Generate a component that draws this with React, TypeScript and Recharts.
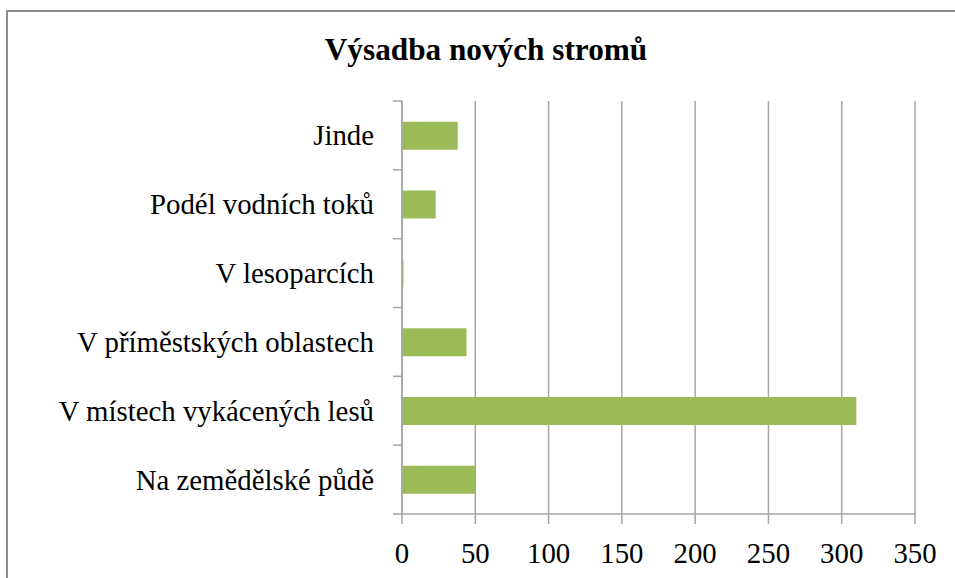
import React from 'react';
import { BarChart, Bar, XAxis, YAxis, CartesianGrid } from 'recharts';

const categories = [
  'Jinde',
  'Podél vodních toků',
  'V lesoparcích',
  'V příměstských oblastech',
  'V místech vykácených lesů',
  'Na zemědělské půdě',
];
const values = [38, 23, 1, 44, 310, 50];
const xTicks = [0, 50, 100, 150, 200, 250, 300, 350];
const title = 'Výsadba nových stromů';

const data = categories.map((c, i) => ({ name: c, value: values[i] }));

const AXIS_COLOR = '#a6a6a6';
const FONT = 'Tinos, Liberation Serif, serif';

const YTick = (props: any) => {
  const { x, y, payload, index } = props;
  const off = payload && payload.offset ? payload.offset : 0;
  const ax = x + 28;
  return (
    <g>
      <line x1={ax - 9} x2={ax} y1={y - off} y2={y - off} stroke={AXIS_COLOR} strokeWidth={1.5} />
      {index === categories.length - 1 ? (
        <line x1={ax - 9} x2={ax} y1={y + off} y2={y + off} stroke={AXIS_COLOR} strokeWidth={1.5} />
      ) : null}
      <text
        transform={`translate(${x},${y + 10}) scale(1.2)`}
        textAnchor="end"
        fill="#000"
        fontSize={24}
        fontFamily={FONT}
      >
        {payload.value}
      </text>
    </g>
  );
};

const XTick = (props: any) => {
  const { x, y, payload } = props;
  return (
    <text
      transform={`translate(${x},${y + 21}) scale(1.2)`}
      textAnchor="middle"
      fill="#000"
      fontSize={24}
      fontFamily={FONT}
    >
      {payload.value}
    </text>
  );
};

export default function App() {
  return (
    <div style={{ position: 'fixed', left: 0, top: 0, width: 955, height: 578, overflow: 'hidden', background: '#fff' }}>
      <div style={{ position: 'absolute', left: 6, top: 10, width: 1200, height: 1200, border: '2px solid #8c8c8c' }} />
      <svg width={955} height={100} style={{ position: 'absolute', left: 0, top: 0 }}>
        <text
          transform="translate(486,60) scale(1.25)"
          textAnchor="middle"
          fontFamily={FONT}
          fontWeight="bold"
          fontSize={25}
          fill="#000"
        >
          {title}
        </text>
      </svg>
      <div style={{ position: 'absolute', left: 0, top: 0 }}>
        <BarChart
          width={955}
          height={578}
          data={data}
          layout="vertical"
          margin={{ top: 101, right: 40, bottom: 0, left: 0 }}
          barCategoryGap="30%"
        >
          <CartesianGrid horizontal={false} stroke={AXIS_COLOR} strokeWidth={1.5} />
          <XAxis
            type="number"
            domain={[0, 350]}
            ticks={xTicks}
            interval={0}
            height={64}
            stroke={AXIS_COLOR}
            strokeWidth={1.5}
            tickSize={10}
            tickMargin={18}
            tick={<XTick />}
          />
          <YAxis
            type="category"
            dataKey="name"
            width={402}
            stroke={AXIS_COLOR}
            strokeWidth={1.5}
            tickLine={false}
            tickSize={9}
            tickMargin={19}
            tick={<YTick />}
            interval={0}
          />
          <Bar dataKey="value" fill="#9bbb59" isAnimationActive={false} />
        </BarChart>
      </div>
    </div>
  );
}
